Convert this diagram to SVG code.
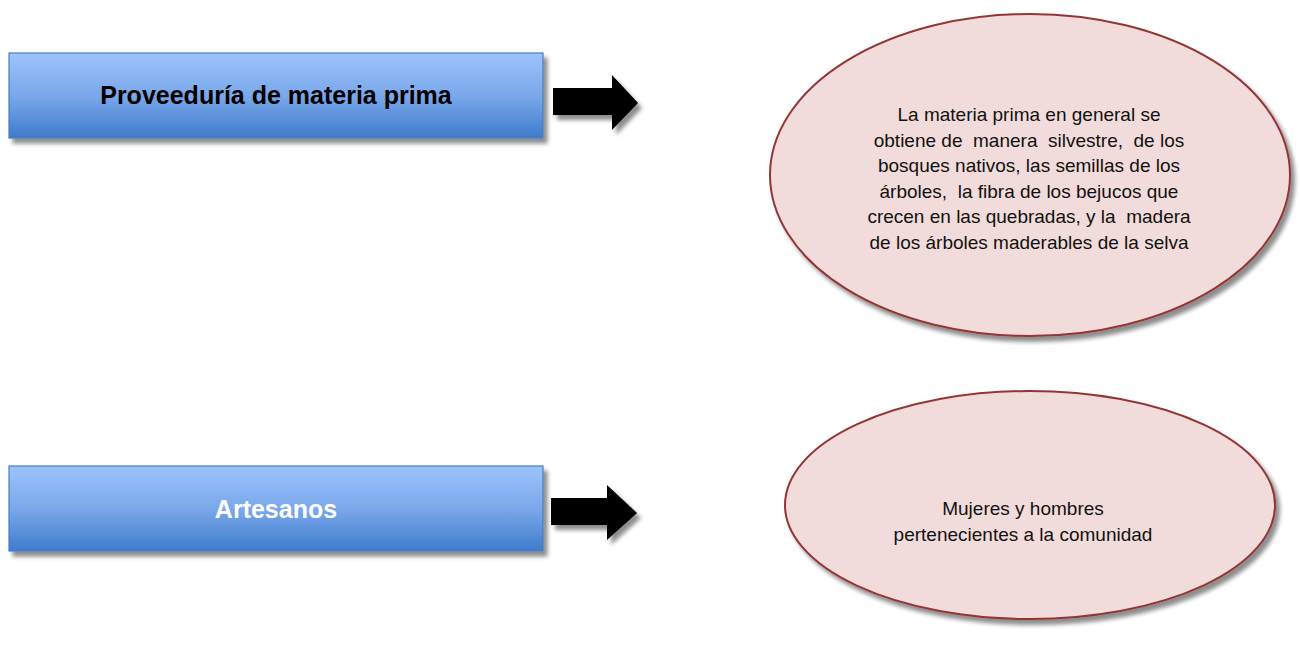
<svg xmlns="http://www.w3.org/2000/svg" width="1300" height="648" viewBox="0 0 1300 648">
  <defs>
    <linearGradient id="blueGrad" x1="0" y1="0" x2="0" y2="1">
      <stop offset="0" stop-color="#9dc3fc"/>
      <stop offset="0.5" stop-color="#7aa8ea"/>
      <stop offset="1" stop-color="#3e7ccc"/>
    </linearGradient>
    <filter id="shadow" x="-10%" y="-10%" width="130%" height="140%">
      <feGaussianBlur in="SourceAlpha" stdDeviation="2"/>
      <feOffset dx="4" dy="5" result="off"/>
      <feComponentTransfer in="off" result="sh">
        <feFuncA type="linear" slope="0.45"/>
      </feComponentTransfer>
      <feMerge>
        <feMergeNode in="sh"/>
        <feMergeNode in="SourceGraphic"/>
      </feMerge>
    </filter>
  </defs>
  <style>
    .box { fill: url(#blueGrad); stroke: #4a7ebb; stroke-width: 1.2; filter: url(#shadow); }
    .oval { fill: #f2dcdb; stroke: #943634; stroke-width: 2; filter: url(#shadow); }
    .arrow { fill: #000000; filter: url(#shadow); }
    .title { font-family: "Liberation Sans", Arial, sans-serif; font-weight: bold; font-size: 25px; text-anchor: middle; }
    .body { font-family: "Liberation Sans", Arial, sans-serif; font-size: 19px; fill: #111111; text-anchor: middle; }
  </style>
  <rect width="1300" height="648" fill="#ffffff"/>

  <g id="node-proveeduria">
    <rect class="box" x="9" y="53" width="534" height="85"/>
    <text class="title" x="276" y="104" fill="#000000">Proveeduría de materia prima</text>
  </g>

  <g id="node-artesanos">
    <rect class="box" x="9" y="466" width="534" height="85"/>
    <text class="title" x="276" y="518" fill="#ffffff">Artesanos</text>
  </g>

  <g id="node-materia">
    <ellipse class="oval" cx="1030" cy="175" rx="260" ry="161"/>
    <text class="body" x="1029" xml:space="preserve"><tspan x="1029" y="121">La materia prima en general se</tspan><tspan x="1029" y="146.5">obtiene de  manera  silvestre,  de los</tspan><tspan x="1029" y="172">bosques nativos, las semillas de los</tspan><tspan x="1029" y="197.5">árboles,  la fibra de los bejucos que</tspan><tspan x="1029" y="223">crecen en las quebradas, y la  madera</tspan><tspan x="1029" y="248.5">de los árboles maderables de la selva</tspan></text>
  </g>

  <g id="node-mujeres">
    <ellipse class="oval" cx="1030" cy="505" rx="245" ry="114"/>
    <text class="body" x="1023"><tspan x="1023" y="515">Mujeres y hombres</tspan><tspan x="1023" y="541">pertenecientes a la comunidad</tspan></text>
  </g>

  <g id="connectors">
    <polygon class="arrow" points="553,88 612,88 612,75 638,103 612,130 612,115 553,115"/>
    <polygon class="arrow" points="551,498 607,498 607,485 637,513 607,540 607,525 551,525"/>
  </g>
</svg>
